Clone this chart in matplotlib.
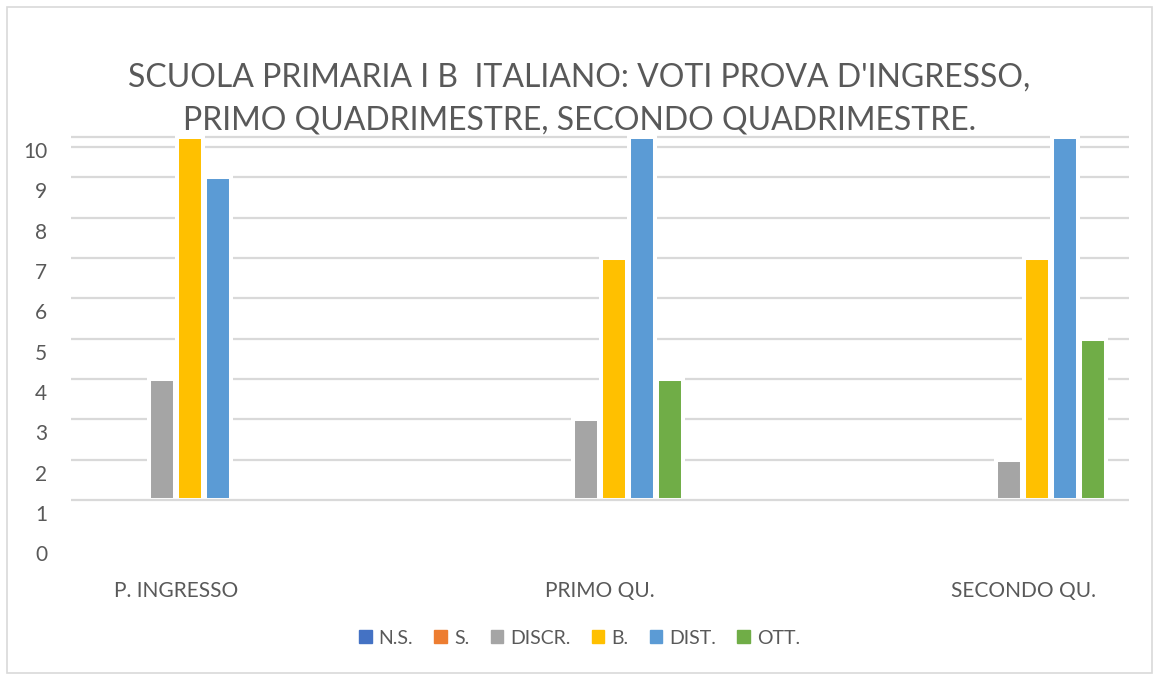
import numpy as np
import matplotlib
matplotlib.use('Agg')
from matplotlib import pyplot as plt
from matplotlib.patches import Rectangle

plt.rcParams['font.family'] = ['Lato', 'DejaVu Sans']

categories = ['P. INGRESSO', 'PRIMO QU.', 'SECONDO QU.']
series_names = ['N.S.', 'S.', 'DISCR.', 'B.', 'DIST.', 'OTT.']
values = {
    'N.S.': [0, 0, 0],
    'S.': [0, 0, 0],
    'DISCR.': [4, 3, 2],
    'B.': [10, 7, 7],
    'DIST.': [9, 10, 10],
    'OTT.': [0, 4, 5],
}
colors = ['#4472C4', '#ED7D31', '#A5A5A5', '#FFC000', '#5B9BD5', '#70AD47']
y_labels = list(range(0, 11))
base = 1

text_col = '#595959'
grid_col = '#D9D9D9'

W, H = 1159, 679
fig = plt.figure(figsize=(W / 100, H / 100), dpi=100)
fig.patch.set_facecolor('white')

# plot area in pixels
left, right, top, bottom = 71, 1129, 120, 560
ax = fig.add_axes([left / W, 1 - bottom / H, (right - left) / W, (bottom - top) / H])

# pixel mapping: category i at 176 + 423.5*i, value 1 at y=500, 10 at y=137
cat_step = 423.5
ax.set_xlim((left - 176) / cat_step, (right - 176) / cat_step)
unit = (500 - 137) / 9.0
ax.set_ylim(1 - (bottom - 500) / unit, 10 + (137 - top) / unit)

for s in ax.spines.values():
    s.set_visible(False)

# gridlines
for v in range(2, 11):
    ax.axhline(v, color=grid_col, lw=1.6, zorder=0)
ax.axhline(10 - 10 / unit, color=grid_col, lw=1.6, zorder=0)
ax.axhline(base, color=grid_col, lw=1.6, zorder=3)

pitch = 28 / cat_step
bw = 26 / cat_step
x = np.arange(len(categories))
n = len(series_names)
for i, name in enumerate(series_names):
    vals = np.array(values[name], dtype=float)
    h = np.clip(vals - base, 0, None)
    pos = x + (i - (n - 1) / 2) * pitch
    ax.bar(pos, h, width=bw, bottom=base, color=colors[i],
           edgecolor='white', linewidth=2.9, zorder=2, label=name)

# y tick labels (offset below gridlines as in the original)
ax.set_yticks([v - 13 / unit for v in y_labels])
ax.set_yticklabels([str(v) for v in y_labels], fontsize=15, color=text_col)
ax.tick_params(axis='y', length=0, pad=17)

ax.set_xticks(x)
ax.set_xticklabels(categories, fontsize=15, color=text_col)
ax.tick_params(axis='x', length=0, pad=15)

fig.text(0.5, 1 - 78 / H, "SCUOLA PRIMARIA I B  ITALIANO: VOTI PROVA D'INGRESSO,",
         ha='center', va='center', fontsize=23, color=text_col)
fig.text(0.5, 1 - 121 / H, "PRIMO QUADRIMESTRE, SECONDO QUADRIMESTRE.",
         ha='center', va='center', fontsize=23, color=text_col)

handles = [Rectangle((0, 0), 1, 1, color=c) for c in colors]
fig.legend(handles, series_names, loc='center', bbox_to_anchor=(0.5, 1 - 638 / H),
           ncol=6, frameon=False, fontsize=14, handlelength=0.65, handleheight=0.65,
           handletextpad=0.35, columnspacing=1.1, labelcolor=text_col)

fig.patches.append(Rectangle((7 / W, 6 / H), (1152 - 7) / W, (672 - 6) / H,
                             transform=fig.transFigure, fill=False,
                             edgecolor='#D9D9D9', lw=1.2))

fig.savefig('out.png', dpi=100)
